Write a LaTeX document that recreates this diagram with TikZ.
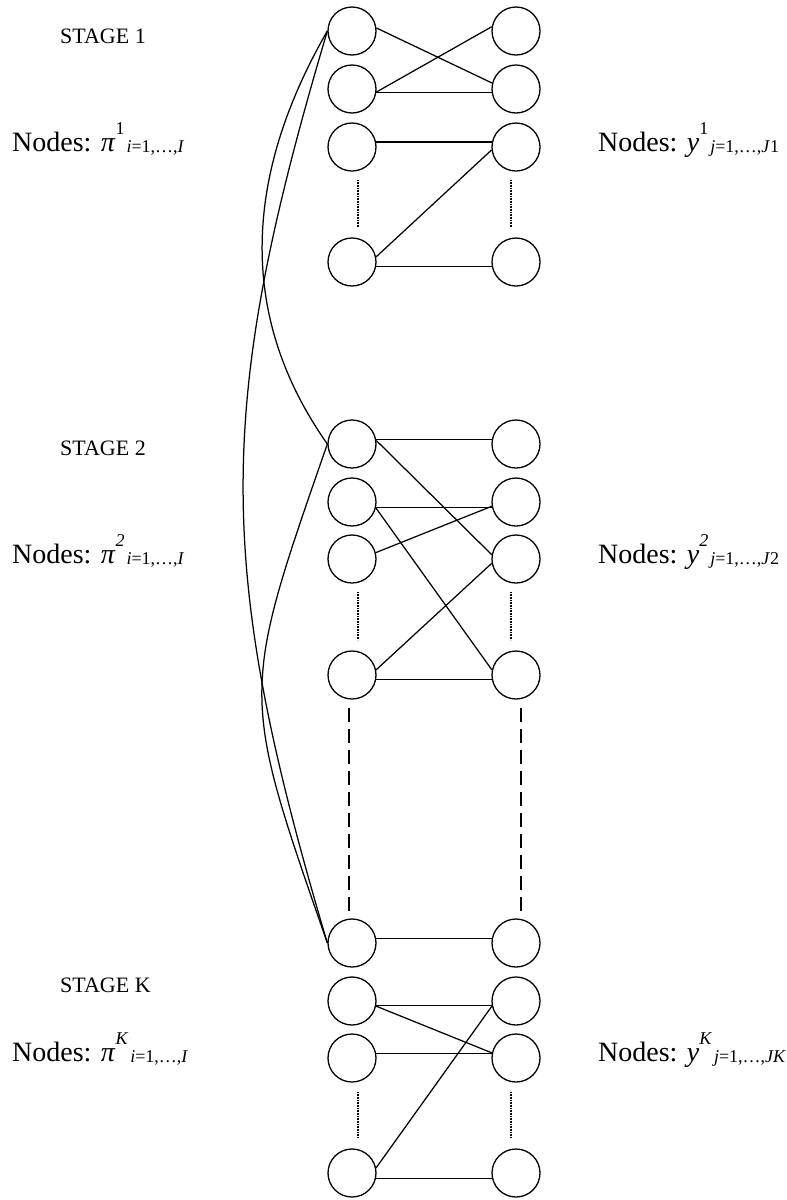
\documentclass[tikz,border=0pt]{standalone}
\usepackage{fontspec}
\setmainfont{Liberation Serif}
\usetikzlibrary{calc}
\newcommand{\nlab}[3]{Nodes: \textit{#1}\raisebox{0.6em}{\fontsize{18}{18}\selectfont #2}\hspace{2pt}\raisebox{-0.06em}{\fontsize{18}{18}\selectfont #3}}
\begin{document}
\begin{tikzpicture}[x=1pt,y=-1pt,
  nd/.style={circle,draw,line width=1.3pt,minimum size=48pt,inner sep=0pt},
  ln/.style={line width=1.25pt},
  dotl/.style={line width=1.2pt,dash pattern=on 0.8pt off 0.8pt},
  dashl/.style={line width=1.4pt,dash pattern=on 14pt off 7pt},
  stg/.style={font=\fontsize{22}{22}\selectfont,anchor=base west,inner sep=0pt},
  lab/.style={font=\fontsize{28}{28}\selectfont,anchor=base west,inner sep=0pt}]
\useasboundingbox (0,0) rectangle (787,1200);
% ---------- Stage 1
\node[nd] (s1L1) at (352,31) {};
\node[nd] (s1L2) at (352,89) {};
\node[nd] (s1L3) at (352,147) {};
\node[nd] (s1L4) at (352,262) {};
\node[nd] (s1R1) at (516,31) {};
\node[nd] (s1R2) at (516,89) {};
\node[nd] (s1R3) at (516,147) {};
\node[nd] (s1R4) at (516,262) {};
% ---------- Stage 2
\node[nd] (s2L1) at (352,444) {};
\node[nd] (s2L2) at (352,502) {};
\node[nd] (s2L3) at (352,559) {};
\node[nd] (s2L4) at (352,675) {};
\node[nd] (s2R1) at (516,444) {};
\node[nd] (s2R2) at (516,502) {};
\node[nd] (s2R3) at (516,559) {};
\node[nd] (s2R4) at (516,675) {};
% ---------- Stage K
\node[nd] (sKL1) at (352,943) {};
\node[nd] (sKL2) at (352,1001) {};
\node[nd] (sKL3) at (352,1058) {};
\node[nd] (sKL4) at (352,1173) {};
\node[nd] (sKR1) at (516,943) {};
\node[nd] (sKR2) at (516,1001) {};
\node[nd] (sKR3) at (516,1058) {};
\node[nd] (sKR4) at (516,1173) {};
% ---------- Stage 1 edges
\draw[ln] (s1L1.7) -- (s1R2.166);
\draw[ln] (s1L2.-7) -- (s1R1.170);
\draw[ln] (s1L2.-9) -- (s1R2.189);
\draw[ln] (s1L3.12) -- (s1R3.168);
\draw[ln] (s1L4.12) -- (s1R3.187);
\draw[ln] (s1L4.-10) -- (s1R4.190);
% ---------- Stage 2 edges
\draw[ln] (s2L1.10) -- (s2R1.170);
\draw[ln] (s2L1.8) -- (s2R3.170);
\draw[ln] (s2L2.-12) -- (s2R2.192);
\draw[ln] (s2L2.-14) -- (s2R4.168);
\draw[ln] (s2L3.15) -- (s2R2.190);
\draw[ln] (s2L4.12) -- (s2R3.190);
\draw[ln] (s2L4.-10) -- (s2R4.190);
% ---------- Stage K edges
\draw[ln] (sKL1.10) -- (sKR1.170);
\draw[ln] (sKL2.-10) -- (sKR2.190);
\draw[ln] (sKL2.-12) -- (sKR3.168);
\draw[ln] (sKL3.10) -- (sKR3.170);
\draw[ln] (sKL4.12) -- (sKR2.192);
\draw[ln] (sKL4.-12) -- (sKR4.192);
% ---------- long curves
\draw[ln] (s1L1.west) .. controls (256,155) and (226,300) .. (s2L1.west);
\draw[ln] (s1L1.west) .. controls (215,409) and (215,565) .. (sKL1.west);
\draw[ln] (s2L1.west) .. controls (240,695) and (240,692) .. (sKL1.west);
% ---------- dotted gaps
\coordinate (d1a) at (358,180); \coordinate (d1b) at (358,227);
\coordinate (d1c) at (511,180); \coordinate (d1d) at (511,227);
\coordinate (d2a) at (358,592); \coordinate (d2b) at (358,640);
\coordinate (d2c) at (511,592); \coordinate (d2d) at (511,640);
\coordinate (d3a) at (358,1092); \coordinate (d3b) at (358,1138);
\coordinate (d3c) at (511,1092); \coordinate (d3d) at (511,1138);
\draw[dotl] (d1a) -- (d1b); \draw[dotl] (d1c) -- (d1d);
\draw[dotl] (d2a) -- (d2b); \draw[dotl] (d2c) -- (d2d);
\draw[dotl] (d3a) -- (d3b); \draw[dotl] (d3c) -- (d3d);
% ---------- dashed continuation
\coordinate (ea) at (349,708); \coordinate (eb) at (349,911);
\coordinate (ec) at (521,708); \coordinate (ed) at (521,911);
\draw[dashl] (ea) -- (eb); \draw[dashl] (ec) -- (ed);
% ---------- labels
\node[stg] (t1) at (60,43) {STAGE 1};
\node[stg] (t2) at (60,455) {STAGE 2};
\node[stg] (tK) at (60,992) {STAGE K};
\node[lab] (p1) at (12,151) {\nlab{π}{1}{\textit{i}=1,…,\textit{I}}};
\node[lab] (y1) at (598,151) {\nlab{y}{1}{\textit{j}=1,…,\textit{J}1}};
\node[lab] (p2) at (12,563) {\nlab{π}{\textit{2}}{\textit{i}=1,…,\textit{I}}};
\node[lab] (y2) at (598,563) {\nlab{y}{\textit{2}}{\textit{j}=1,…,\textit{J}2}};
\node[lab] (pK) at (12,1061) {\nlab{π}{\textit{K}}{\textit{i}=1,…,\textit{I}}};
\node[lab] (yK) at (598,1061) {\nlab{y}{\textit{K}}{\textit{j}=1,…,\textit{JK}}};
\end{tikzpicture}
\end{document}
